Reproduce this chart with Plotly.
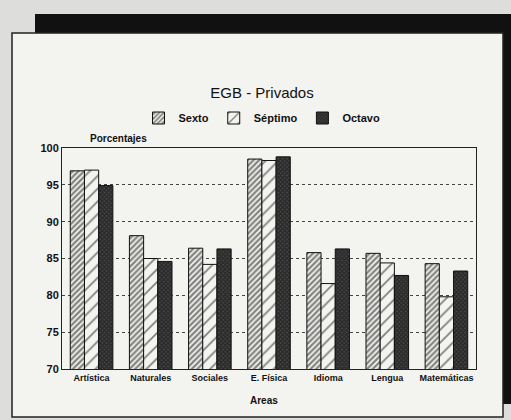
import plotly.graph_objects as go

categories = ["Artística", "Naturales", "Sociales", "E. Física", "Idioma", "Lengua", "Matemáticas"]
sexto = [96.9, 88.1, 86.4, 98.5, 85.8, 85.7, 84.3]
septimo = [97.0, 85.0, 84.2, 98.3, 81.6, 84.4, 79.8]
octavo = [94.9, 84.6, 86.3, 98.8, 86.3, 82.7, 83.3]
tick_vals = [70, 75, 80, 85, 90, 95, 100]

FONT = "Liberation Sans"
BOXBG = "#f3f3f0"

fig = go.Figure()
fig.add_trace(go.Bar(
    name="Sexto", x=categories, y=sexto,
    marker=dict(color=BOXBG, line=dict(color="#111", width=1),
                pattern=dict(shape="/", fgcolor="#111", bgcolor=BOXBG, size=4, solidity=0.55)),
))
fig.add_trace(go.Bar(
    name="Séptimo", x=categories, y=septimo,
    marker=dict(color=BOXBG, line=dict(color="#111", width=1),
                pattern=dict(shape="/", fgcolor="#111", bgcolor=BOXBG, size=9, solidity=0.2)),
))
fig.add_trace(go.Bar(
    name="Octavo", x=categories, y=octavo,
    marker=dict(color="#111", line=dict(color="#111", width=1),
                pattern=dict(shape="x", fgcolor="#0a0a0a", bgcolor="#4a4a4a", size=3, solidity=0.75)),
))

W, H = 511, 420
L, R, T, B = 62, 35, 148, 51
pw, ph = W - L - R, H - T - B

def px_x(x):
    return (x - L) / pw

def px_y(y):
    return (H - B - y) / ph

shapes = [
    dict(type="rect", xref="paper", yref="paper", x0=px_x(35), x1=px_x(511), y0=px_y(33), y1=px_y(14),
         fillcolor="#111", line=dict(width=0), layer="below"),
    dict(type="rect", xref="paper", yref="paper", x0=px_x(503), x1=px_x(511), y0=px_y(404), y1=px_y(14),
         fillcolor="#111", line=dict(width=0), layer="below"),
    dict(type="rect", xref="paper", yref="paper", x0=px_x(12), x1=px_x(503), y0=px_y(417), y1=px_y(33),
         fillcolor=BOXBG, line=dict(color="#222", width=1.5), layer="below"),
]

fig.update_layout(
    width=W, height=H,
    margin=dict(l=L, r=R, t=T, b=B, autoexpand=False),
    paper_bgcolor="#dddddb",
    plot_bgcolor=BOXBG,
    font=dict(family=FONT, color="#111"),
    barmode="group",
    bargap=0.28,
    bargroupgap=0,
    showlegend=True,
    legend=dict(orientation="h", x=262 / W, xref="container", xanchor="center",
                y=1 - 118 / H, yref="container", yanchor="middle",
                font=dict(size=11, family=FONT, weight="bold"), bgcolor="rgba(0,0,0,0)",
                itemwidth=30),
    title=dict(text="EGB - Privados", x=262 / W, xanchor="center", y=1 - 93 / H, yanchor="middle",
               font=dict(size=15, family=FONT, color="#111")),
    shapes=shapes,
    annotations=[
        dict(text="Porcentajes", xref="paper", yref="paper", x=px_x(88), y=px_y(138),
             xanchor="left", yanchor="middle", showarrow=False,
             font=dict(size=10, family=FONT, weight="bold")),
        dict(text="Areas", xref="paper", yref="paper", x=px_x(264), y=px_y(400),
             xanchor="center", yanchor="middle", showarrow=False,
             font=dict(size=10, family=FONT, weight="bold")),
    ],
)
fig.update_yaxes(range=[70, 100], tickvals=tick_vals, ticks="", showgrid=True,
                 gridcolor="#444", griddash="dot", gridwidth=1,
                 showline=True, linecolor="#222", mirror=True, linewidth=1,
                 tickfont=dict(size=11, family=FONT, weight="bold"), zeroline=False)
fig.update_xaxes(ticks="", showline=True, linecolor="#222", mirror=True, linewidth=1,
                 tickfont=dict(size=9, family=FONT, weight="bold"))

fig.write_html("out.html", config={"displayModeBar": False},
               post_script="document.body.style.margin='0';document.body.style.background='#dddddb';")
